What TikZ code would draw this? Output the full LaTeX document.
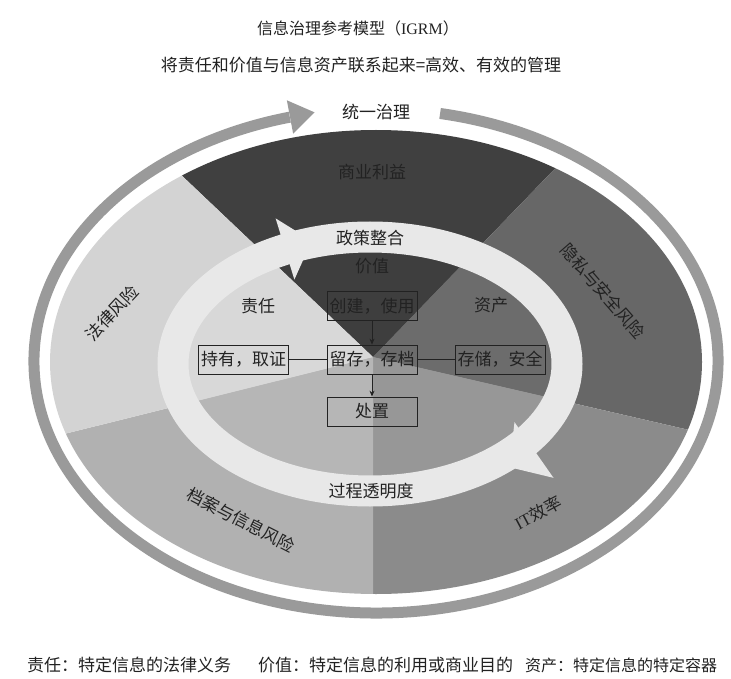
\documentclass[tikz,border=0pt]{standalone}
\usepackage{fontspec}
\setmainfont{Noto Sans CJK SC}
\newfontfamily\latin{Liberation Serif}
\usetikzlibrary{arrows.meta,calc}
\definecolor{cBiz}{HTML}{404040}
\definecolor{cPriv}{HTML}{676767}
\definecolor{cIT}{HTML}{8B8B8B}
\definecolor{cRec}{HTML}{B1B1B1}
\definecolor{cLaw}{HTML}{D3D3D3}
\definecolor{iVal}{HTML}{3E3E3E}
\definecolor{iAss}{HTML}{6C6C6C}
\definecolor{iLR}{HTML}{979797}
\definecolor{iLL}{HTML}{B6B6B6}
\definecolor{iRes}{HTML}{D8D8D8}
\definecolor{bandc}{HTML}{E8E8E8}
\definecolor{ringc}{HTML}{9A9A9A}
\definecolor{txt}{HTML}{222222}
\tikzset{
  lbl/.style={text=txt, inner sep=1pt, font=\fontsize{17}{19}\selectfont},
  boxn/.style={draw=txt, line width=0.8pt, minimum width=90pt, minimum height=29pt, inner sep=0pt, text=txt, font=\fontsize{17}{19}\selectfont},
  conn/.style={draw=txt, line width=0.8pt},
  arr/.style={conn, -{Stealth[length=6pt,width=5pt]}}
}
\begin{document}
\begin{tikzpicture}[x=1pt,y=1pt]
\useasboundingbox (0,0) rectangle (731,-679);
\fill[white] (0,0) rectangle (731,-679);

\coordinate (C) at (373,-357);
% outer sectors
\begin{scope}
\clip (376,-362) ellipse [x radius=326, y radius=232];
\fill[cBiz] (C) -- ++(46:700) arc[start angle=46,end angle=136.5,radius=700] -- cycle;
\fill[cPriv] (C) -- ++(-13:700) arc[start angle=-13,end angle=46,radius=700] -- cycle;
\fill[cIT] (C) -- ++(-90:700) arc[start angle=-90,end angle=-13,radius=700] -- cycle;
\fill[cRec] (C) -- ++(194:700) arc[start angle=194,end angle=270,radius=700] -- cycle;
\fill[cLaw] (C) -- ++(136.5:700) arc[start angle=136.5,end angle=194,radius=700] -- cycle;
\end{scope}
% inner sectors
\begin{scope}
\clip (370,-364) ellipse [x radius=184, y radius=114];
\fill[iVal] (C) -- ++(46:700) arc[start angle=46,end angle=136.5,radius=700] -- cycle;
\fill[iAss] (C) -- ++(-13:700) arc[start angle=-13,end angle=46,radius=700] -- cycle;
\fill[iLR] (C) -- ++(-90:700) arc[start angle=-90,end angle=-13,radius=700] -- cycle;
\fill[iLL] (C) -- ++(194:700) arc[start angle=194,end angle=270,radius=700] -- cycle;
\fill[iRes] (C) -- ++(136.5:700) arc[start angle=136.5,end angle=194,radius=700] -- cycle;
\end{scope}
% inner band with arrowheads
\draw[bandc, line width=31pt] (370,-364) ellipse [x radius=197, y radius=127];
\fill[bandc, shift={(285,-249)}, rotate=17] (0,32) -- (28,0) -- (0,-32) -- cycle;
\fill[bandc, shift={(534,-450)}, rotate=215] (0,34) -- (30,0) -- (0,-34) -- cycle;
% outer ring arrow
\draw[ringc, line width=11pt] ([shift={(376,-361)}]79.2:342 and 252) arc[start angle=79.2, end angle=-255.4, x radius=342, y radius=252];
\fill[ringc, shift={(290,-117)}, rotate=10.7] (0,17) -- (25,0) -- (0,-17) -- cycle;

% titles
\node[lbl, font=\fontsize{16}{18}\selectfont] (title) at (358,-28) {信息治理参考模型（{\latin IGRM}）};
\node[lbl] (sub) at (361,-65) {将责任和价值与信息资产联系起来=高效、有效的管理};
\node[lbl] (gov) at (376,-112) {统一治理};
% sector labels
\node[lbl] (biz) at (372,-172) {商业利益};
\node[lbl, rotate=-49] (priv) at (603,-291) {隐私与安全风险};
\node[lbl, rotate=28] (it) at (538,-513) {{\latin IT}效率};
\node[lbl, rotate=-27] (rec) at (241,-520) {档案与信息风险};
\node[lbl, rotate=47] (law) at (112,-313) {法律风险};
\node[lbl] (pol) at (370,-238) {政策整合};
\node[lbl] (proc) at (371,-491) {过程透明度};
\node[lbl] (val) at (372,-266) {价值};
\node[lbl] (res) at (258,-306) {责任};
\node[lbl] (ass) at (491,-305) {资产};
% boxes
\node[boxn] (create) at (372,-306) {创建，使用};
\node[boxn] (hold) at (243.5,-359.5) {持有，取证};
\node[boxn] (keep) at (372,-359.5) {留存，存档};
\node[boxn] (store) at (500,-359.5) {存储，安全};
\node[boxn] (disp) at (372,-411.5) {处置};
\draw[arr] (create) -- (keep);
\draw[arr] (keep) -- (disp);
\draw[conn] (hold) -- (keep);
\draw[conn] (keep) -- (store);
% footer
\node[lbl, anchor=west] (f1) at (26,-665) {责任：特定信息的法律义务};
\node[lbl, anchor=west] (f2) at (257,-665) {价值：特定信息的利用或商业目的};
\node[lbl, anchor=west, font=\fontsize{16}{18}\selectfont] (f3) at (524,-665) {资产：特定信息的特定容器};
\end{tikzpicture}
\end{document}
